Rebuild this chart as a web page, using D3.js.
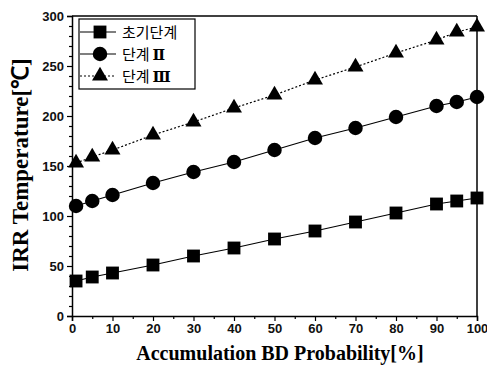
<!DOCTYPE html>
<html>
<head>
<meta charset="utf-8">
<script src="https://cdn.jsdelivr.net/npm/d3@7"></script>
<style>
  body { margin: 0; background: #fff; }
  svg { display: block; }
</style>
</head>
<body>
<div id="chart"></div>
<script>
// data
const probability = [1, 5, 10, 20, 30, 40, 50, 60, 70, 80, 90, 95, 100];
const stageInitial = [35, 39, 43, 51, 60, 68, 77, 85, 94, 103, 112, 115, 118];
const stage2 = [110, 115, 121, 133, 144, 154, 166, 178, 188, 199, 210, 214, 219];
const stage3 = [153, 159, 166, 181, 194, 208, 221, 236, 249, 263, 276, 284, 289];
const seriesNames = ['초기단계', '단계', '단계'];
const seriesNumerals = ['', 'Ⅱ', 'Ⅲ'];
const xTicks = [0, 10, 20, 30, 40, 50, 60, 70, 80, 90, 100];
const yTicks = [0, 50, 100, 150, 200, 250, 300];

const W = 487, H = 371;
const margin = { top: 16, right: 10, bottom: 55, left: 72 };

const svg = d3.select('#chart').append('svg')
  .attr('width', W)
  .attr('height', H);

const x = d3.scaleLinear().domain([0, 100]).range([margin.left, 477]);
const y = d3.scaleLinear().domain([0, 300]).range([316, margin.top]);

const tickFont = 'Liberation Sans, Arial, sans-serif';
const serif = 'Liberation Serif, Times New Roman, serif';

// frame: top and right lines
svg.append('line')
  .attr('x1', x(0)).attr('x2', x(100))
  .attr('y1', y(300)).attr('y2', y(300))
  .attr('stroke', '#000').attr('stroke-width', 1.5);
svg.append('line')
  .attr('x1', x(100)).attr('x2', x(100))
  .attr('y1', y(300)).attr('y2', y(0))
  .attr('stroke', '#000').attr('stroke-width', 1.5);

// x axis
svg.append('g')
  .attr('transform', `translate(0,${y(0)})`)
  .call(d3.axisBottom(x).tickValues(xTicks).tickSize(5).tickPadding(3).tickFormat(d3.format('d')));
svg.append('g')
  .attr('transform', `translate(0,${y(0)})`)
  .call(d3.axisBottom(x).tickValues(d3.range(5, 100, 10)).tickSize(3).tickFormat(''))
  .select('.domain').remove();

// y axis
svg.append('g')
  .attr('transform', `translate(${x(0)},0)`)
  .call(d3.axisLeft(y).tickValues(yTicks).tickSize(5).tickPadding(3).tickFormat(d3.format('d')));
svg.append('g')
  .attr('transform', `translate(${x(0)},0)`)
  .call(d3.axisLeft(y).tickValues(d3.range(10, 300, 10).filter(v => v % 50 !== 0)).tickSize(3).tickFormat(''))
  .select('.domain').remove();

svg.selectAll('.domain').attr('stroke', '#000').attr('stroke-width', 1.5);
svg.selectAll('.tick line').attr('stroke', '#000').attr('stroke-width', 1.2);
svg.selectAll('.tick text')
  .attr('font-family', tickFont)
  .attr('font-size', 13)
  .attr('font-weight', 'bold')
  .attr('fill', '#111');

// axis titles
svg.append('text')
  .attr('x', 280).attr('y', 360)
  .attr('text-anchor', 'middle')
  .attr('font-family', serif)
  .attr('font-weight', 'bold')
  .attr('font-size', 20)
  .text('Accumulation BD Probability[%]');

svg.append('text')
  .attr('transform', 'translate(28,165) rotate(-90)')
  .attr('text-anchor', 'middle')
  .attr('font-family', serif)
  .attr('font-weight', 'bold')
  .attr('font-size', 23)
  .text('IRR Temperature[℃]');

// series
const series = [
  { name: seriesNames[0], num: seriesNumerals[0], values: stageInitial, marker: d3.symbolSquare, size: 165, dash: null },
  { name: seriesNames[1], num: seriesNumerals[1], values: stage2, marker: d3.symbolCircle, size: 165, dash: null },
  { name: seriesNames[2], num: seriesNumerals[2], values: stage3, marker: d3.symbolTriangle, size: 110, dash: '2,2' }
];

const line = d3.line()
  .x((d, i) => x(probability[i]))
  .y(d => y(d));

series.forEach(s => {
  svg.append('path')
    .datum(s.values)
    .attr('d', line)
    .attr('fill', 'none')
    .attr('stroke', '#000')
    .attr('stroke-width', 1.2)
    .attr('stroke-dasharray', s.dash);

  svg.append('g').selectAll('path')
    .data(s.values)
    .join('path')
    .attr('transform', (d, i) => `translate(${x(probability[i])},${y(d)})`)
    .attr('d', d3.symbol().type(s.marker).size(s.size))
    .attr('fill', '#000');
});

// legend
const legend = svg.append('g').attr('transform', 'translate(79,19)');
legend.append('rect')
  .attr('width', 116).attr('height', 70)
  .attr('fill', '#fff')
  .attr('stroke', '#000')
  .attr('stroke-width', 1.2);

series.forEach((s, i) => {
  const row = legend.append('g').attr('transform', `translate(0,${13 + i * 22})`);
  row.append('line')
    .attr('x1', 1).attr('x2', 37)
    .attr('stroke', '#000')
    .attr('stroke-width', 1.2)
    .attr('stroke-dasharray', s.dash);
  row.append('path')
    .attr('transform', 'translate(21,0)')
    .attr('d', d3.symbol().type(s.marker).size(s.size))
    .attr('fill', '#000');
  const t = row.append('text')
    .attr('x', 43).attr('y', 6)
    .attr('font-family', 'Noto Sans CJK KR, sans-serif')
    .attr('font-size', 15)
    .attr('fill', '#000')
    .text(s.name);
  if (s.num) {
    const box = t.node().getBBox();
    row.append('text')
      .attr('x', box.x + box.width + 3).attr('y', 6)
      .attr('font-family', 'DejaVu Serif, serif')
      .attr('font-weight', 'bold')
      .attr('font-size', 15)
      .attr('fill', '#000')
      .text(s.num);
  }
});
</script>
</body>
</html>
